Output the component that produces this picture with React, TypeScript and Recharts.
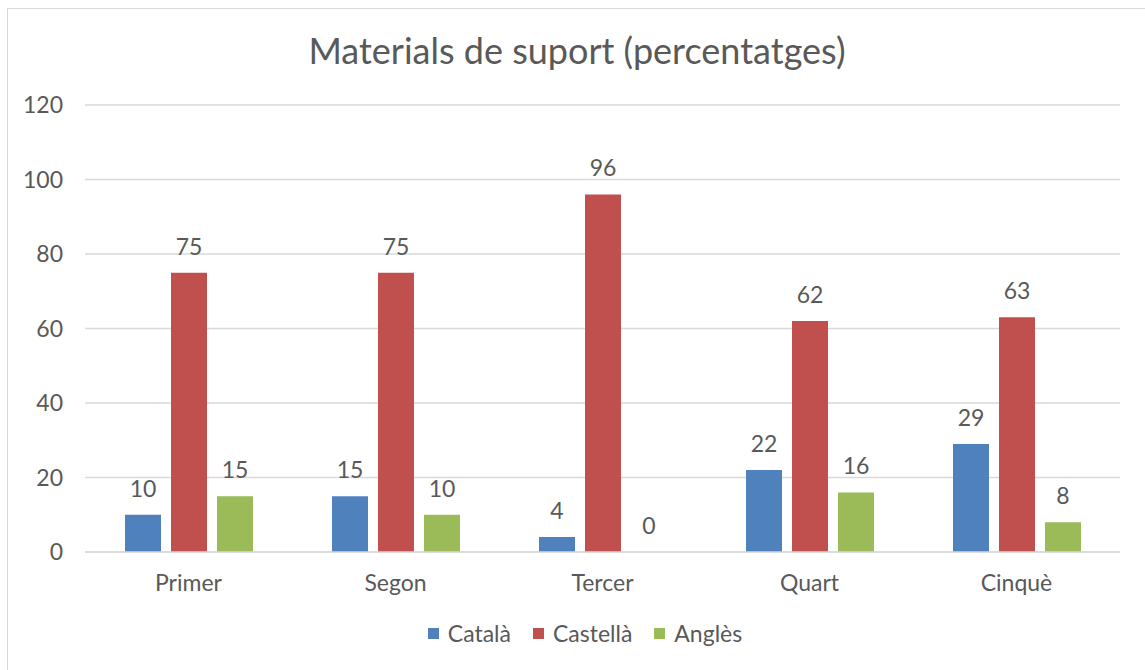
import React from "react";
import { BarChart, Bar, XAxis, YAxis, CartesianGrid, Legend, LabelList } from "recharts";

const categories = ["Primer", "Segon", "Tercer", "Quart", "Cinquè"];
const catala = [10, 15, 4, 22, 29];
const castella = [75, 75, 96, 62, 63];
const angles = [15, 10, 0, 16, 8];
const yTicks = [0, 20, 40, 60, 80, 100, 120];
const seriesNames = ["Català", "Castellà", "Anglès"];
const seriesColors = ["#4F81BD", "#C0504D", "#9BBB59"];

const data = categories.map((c, i) => ({
  name: c,
  "Català": catala[i],
  "Castellà": castella[i],
  "Anglès": angles[i],
}));

const FONT = "Lato, 'Open Sans', sans-serif";
const TEXT = "#595959";
const FS = 23;

const renderLabel = (props: any) => {
  const { x, y, width, value } = props;
  return (
    <text
      x={Number(x) + Number(width) / 2}
      y={Number(y) - 18}
      textAnchor="middle"
      fill={TEXT}
      fontSize={FS}
      fontFamily={FONT}
    >
      {value}
    </text>
  );
};

const LegendContent = () => (
  <div style={{ display: "flex", justifyContent: "center", alignItems: "center", fontFamily: FONT, fontSize: FS, color: TEXT, paddingLeft: 42 }}>
    {seriesNames.map((n, i) => (
      <div key={n} style={{ display: "flex", alignItems: "center", marginRight: i < seriesNames.length - 1 ? 22 : 0 }}>
        <span style={{ display: "inline-block", width: 11, height: 11, background: seriesColors[i], marginRight: 9 }} />
        <span>{n}</span>
      </div>
    ))}
  </div>
);

export default function App() {
  return (
    <div
      style={{
        position: "absolute",
        left: 7,
        top: 8,
        width: 1160,
        height: 680,
        border: "1px solid #d9d9d9",
        boxSizing: "border-box",
        background: "#fff",
        fontFamily: FONT,
      }}
    >
      <div
        style={{
          position: "absolute",
          top: 19,
          left: 0,
          width: 1138,
          textAlign: "center",
          fontSize: 36,
          color: TEXT,
          fontFamily: FONT,
          fontWeight: 400,
        }}
      >
        Materials de suport (percentatges)
      </div>
      <BarChart
        width={1137}
        height={660}
        data={data}
        margin={{ top: 96, right: 25, left: 0, bottom: 47 }}
        barGap={10}
        barCategoryGap={40}
      >
        <CartesianGrid vertical={false} stroke="#d9d9d9" strokeWidth={1.5} />
        <XAxis
          dataKey="name"
          tickLine={false}
          axisLine={{ stroke: "#d9d9d9", strokeWidth: 1.5 }}
          tick={{ fill: TEXT, fontSize: FS, fontFamily: FONT }}
          tickMargin={17}
          height={40}
        />
        <YAxis
          domain={[0, 120]}
          ticks={yTicks}
          tickLine={false}
          axisLine={false}
          tick={{ fill: TEXT, fontSize: FS, fontFamily: FONT }}
          tickSize={0}
          tickMargin={22}
          width={77}
        />
        <Legend
          verticalAlign="bottom"
          align="center"
          content={<LegendContent />}
          wrapperStyle={{ top: 610, height: 30 }}
        />
        <Bar dataKey="Català" fill={seriesColors[0]} isAnimationActive={false}>
          <LabelList dataKey="Català" content={renderLabel} />
        </Bar>
        <Bar dataKey="Castellà" fill={seriesColors[1]} isAnimationActive={false}>
          <LabelList dataKey="Castellà" content={renderLabel} />
        </Bar>
        <Bar dataKey="Anglès" fill={seriesColors[2]} isAnimationActive={false} minPointSize={0.01}>
          <LabelList dataKey="Anglès" content={renderLabel} />
        </Bar>
      </BarChart>
    </div>
  );
}
